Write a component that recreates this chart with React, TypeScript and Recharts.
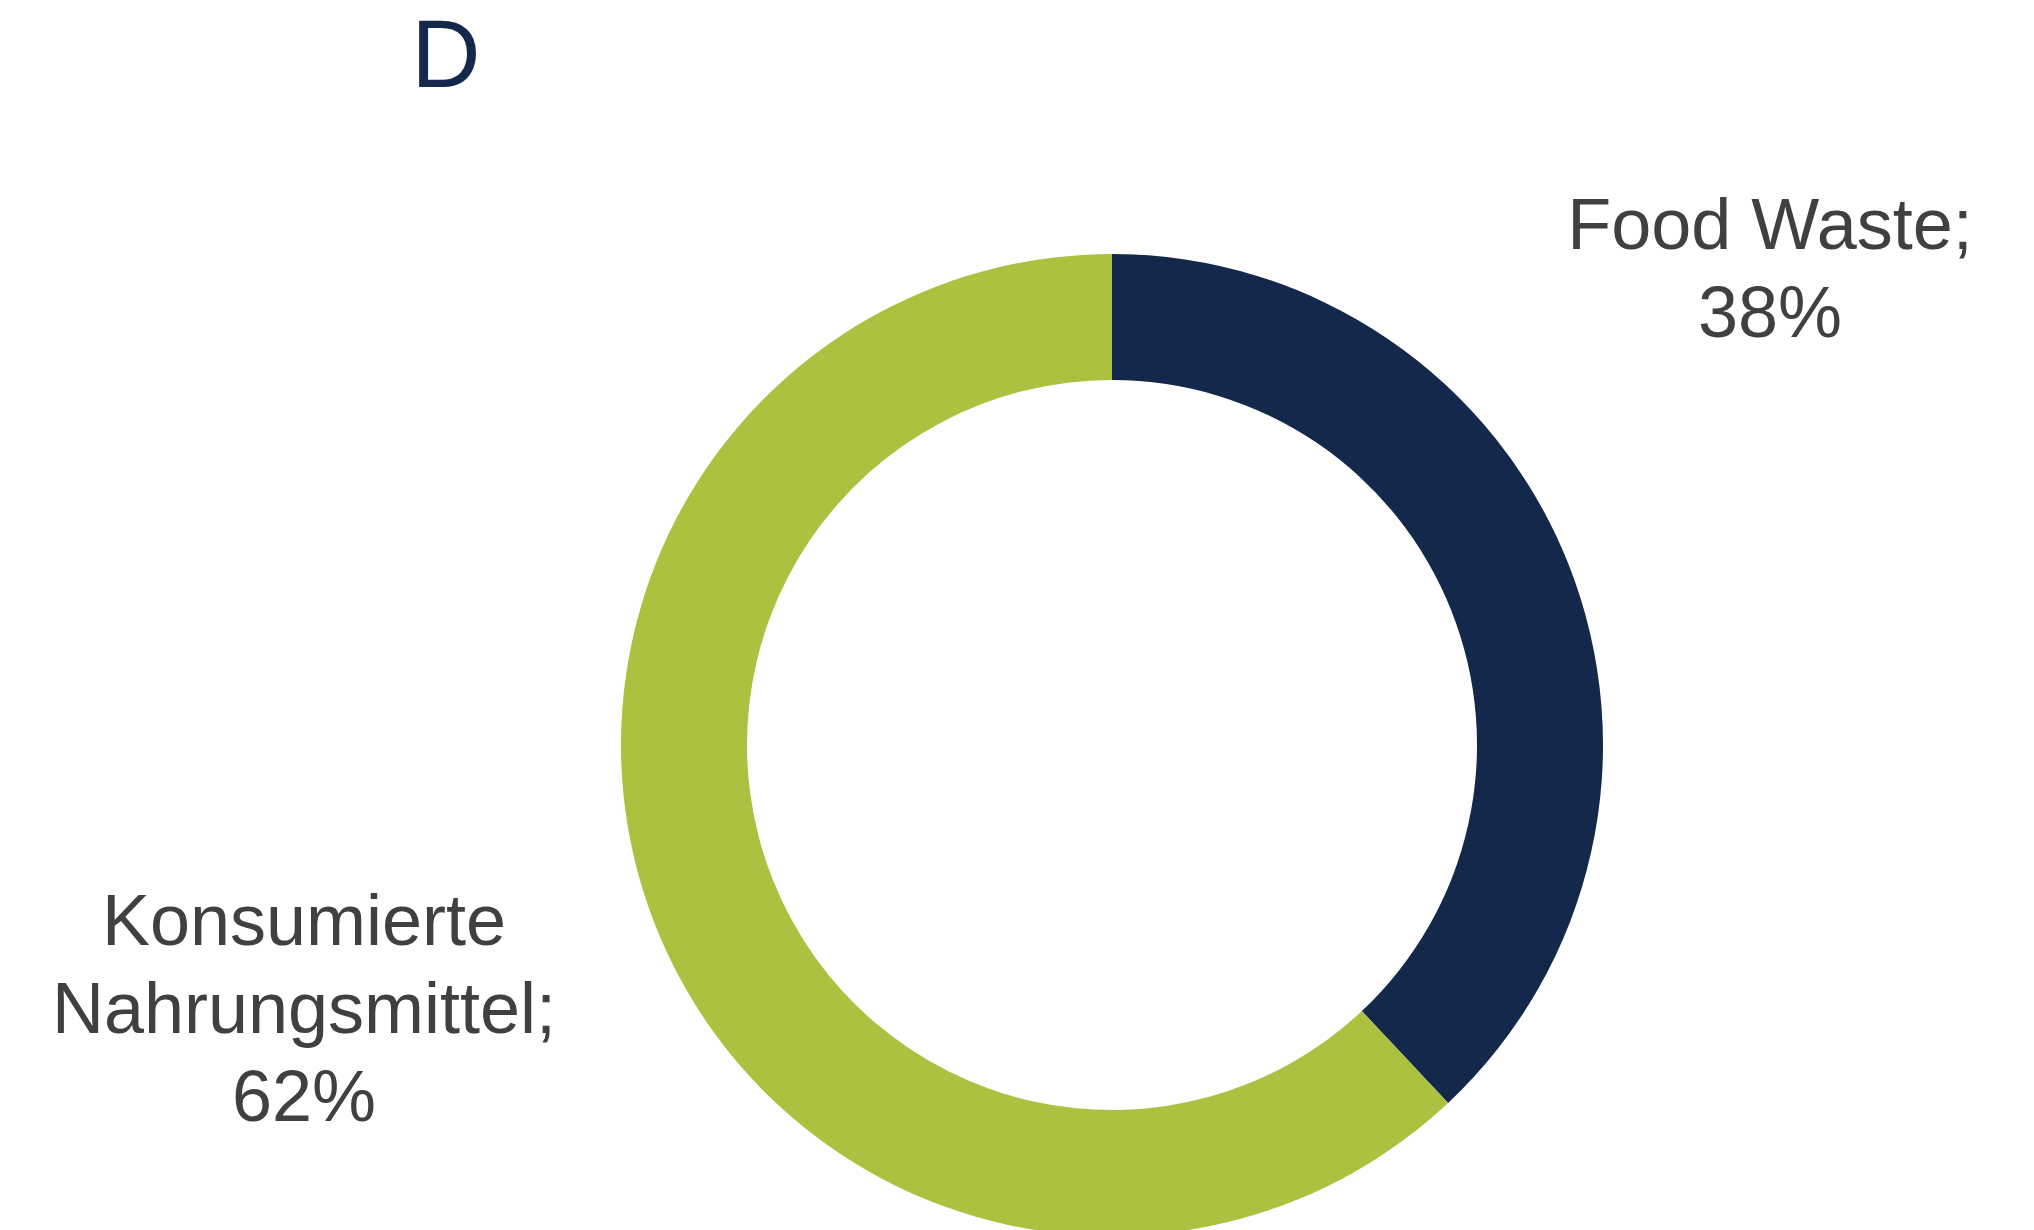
import React from "react";
import { PieChart, Pie, Cell } from "recharts";

const categories = ["Food Waste", "Konsumierte Nahrungsmittel"];
const values = [38, 62];
const labelLines = [["Food Waste;", "38%"], ["Konsumierte", "Nahrungsmittel;", "62%"]];
const colors = ["#14284B", "#ABC13F"];
const title = "D";

const data = categories.map((name, i) => ({ name, value: values[i] }));

const labelPos = [
  { x: 1770, y: 249 },
  { x: 304, y: 945 },
];

const FONT = "'Liberation Sans', Arial, Helvetica, sans-serif";

const renderLabel = (props: any) => {
  const i = props.index;
  const pos = labelPos[i];
  const lines = labelLines[i];
  return (
    <text
      key={"lbl" + i}
      x={pos.x}
      y={pos.y}
      textAnchor="middle"
      fill="#404040"
      fontFamily={FONT}
      fontSize={72}
    >
      {lines.map((l, j) => (
        <tspan key={j} x={pos.x} y={pos.y + j * 88}>
          {l}
        </tspan>
      ))}
    </text>
  );
};

export default function App() {
  return (
    <div style={{ position: "absolute", left: 0, top: 0, width: 2034, height: 1230, background: "#fff", overflow: "hidden" }}>
      <PieChart width={2034} height={1230} margin={{ top: 0, right: 0, bottom: 0, left: 0 }}>
        <Pie
          data={data}
          dataKey="value"
          nameKey="name"
          cx={1112}
          cy={745}
          innerRadius={365}
          outerRadius={491}
          startAngle={90}
          endAngle={-270}
          stroke="none"
          isAnimationActive={false}
          label={renderLabel}
          labelLine={false}
        >
          {data.map((d, i) => (
            <Cell key={d.name} fill={colors[i]} />
          ))}
        </Pie>
      </PieChart>
      <svg width={2034} height={1230} style={{ position: "absolute", left: 0, top: 0, pointerEvents: "none" }}>
        <text x={446} y={87} textAnchor="middle" fill="#14284B" fontFamily={FONT} fontSize={96}>
          {title}
        </text>
      </svg>
    </div>
  );
}
